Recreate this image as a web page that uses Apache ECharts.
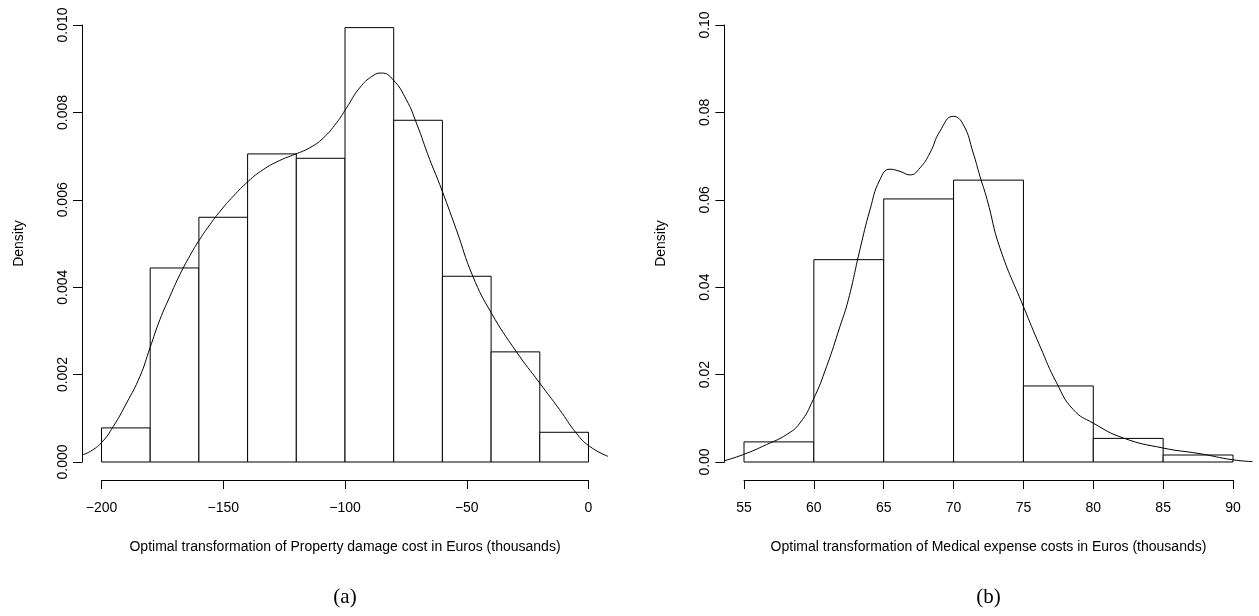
<!DOCTYPE html>
<html>
<head>
<meta charset="utf-8">
<script src="https://cdn.jsdelivr.net/npm/echarts@6/dist/echarts.min.js"></script>
<style>
    html, body { margin: 0; padding: 0; background: #fff; }
    #container { width: 1259px; height: 616px; }
</style>
</head>
<body>
<div id="container"></div>
<script>
// panel (a) histogram
var breaksA = [-200, -180, -160, -140, -120, -100, -80, -60, -40, -20, 0]
var densA = [0.00078, 0.00444, 0.0056, 0.00705, 0.00695, 0.00994, 0.00782, 0.00425, 0.00252, 0.00068]
// panel (a) density curve
var curveAx = [-208, -204.7, -199.9, -195.2, -189.7, -184.2, -180.1, -176, -171.9, -167.8, -163.7, -159.6, -155.5, -151.4, -145.9, -139.8, -133.6, -126.8, -120.6, -114.5, -109, -103.5, -99.4, -94, -88.5, -85, -80.3, -74.8, -70.7, -65.2, -61.1, -54.3, -47.5, -39.9, -29.7, -20.1, -11.9, -5, 0.4, 8]
var curveAy = [0.00016, 0.00024, 0.00045, 0.00081, 0.00135, 0.00196, 0.00261, 0.00326, 0.00379, 0.00429, 0.00472, 0.0051, 0.00543, 0.00573, 0.00608, 0.00642, 0.00669, 0.0069, 0.00704, 0.00719, 0.00741, 0.00776, 0.0081, 0.00856, 0.00884, 0.0089, 0.00875, 0.00829, 0.00776, 0.00692, 0.00635, 0.00532, 0.00425, 0.00341, 0.00253, 0.00181, 0.0012, 0.00066, 0.00036, 0.00013]

// panel (b) histogram
var breaksB = [55, 60, 65, 70, 75, 80, 85, 90]
var densB = [0.0046, 0.0463, 0.0602, 0.0645, 0.0174, 0.0054, 0.0016]
// panel (b) density curve
var curveBx = [53.6, 54.95, 56.62, 58.06, 59, 59.96, 60.92, 61.87, 62.47, 63.3, 64.02, 64.73, 65.45, 66.17, 66.88, 67.6, 68.31, 69.03, 69.98, 70.7, 71.41, 71.89, 72.4, 73.32, 75, 76.19, 77.38, 78.57, 80, 82.15, 85, 87.64, 90, 91.4]
var curveBy = [0.0003, 0.0017, 0.004, 0.0063, 0.0089, 0.0143, 0.0219, 0.031, 0.0371, 0.0486, 0.0577, 0.0646, 0.067, 0.0665, 0.0657, 0.0673, 0.0707, 0.0757, 0.0791, 0.0772, 0.0707, 0.0654, 0.0601, 0.049, 0.0356, 0.0265, 0.0181, 0.012, 0.0089, 0.0055, 0.0032, 0.0019, 0.0005, 0.0001]

var titleA = 'Optimal transformation of Property damage cost in Euros (thousands)'
var titleB = 'Optimal transformation of Medical expense costs in Euros (thousands)'

var font = 'Liberation Sans, Arial, Helvetica, sans-serif'

var histData = function (breaks, dens) {
    var data = []
    for (let i = 0; i < dens.length; i++) {
        data.push([breaks[i], breaks[i + 1], dens[i]])
    }
    return data
}

var zip = function (xs, ys) {
    return xs.map((x, i) => [x, ys[i]])
}

var renderBar = function (params, api) {
    var p0 = api.coord([api.value(0), api.value(2)])
    var p1 = api.coord([api.value(1), 0])
    return {
        type: 'rect',
        shape: { x: p0[0], y: p0[1], width: p1[0] - p0[0], height: p1[1] - p0[1] },
        style: { fill: '#fff', stroke: '#000', lineWidth: 1 },
    }
}

// 看得见的坐标轴 (R 风格, 轴线只到首尾刻度)
var shownX = function (grid, min, max, interval, name) {
    return {
        type: 'value', gridIndex: grid, min: min, max: max, interval: interval,
        offset: 18,
        axisLine: { show: true, onZero: false, lineStyle: { color: '#000', width: 1 } },
        axisTick: { show: true, length: 9, lineStyle: { color: '#000' } },
        splitLine: { show: false },
        axisLabel: {
            color: '#000', fontSize: 14, fontFamily: font, margin: 21,
            formatter: v => String(v).replace('-', '\u2212'),
        },
        name: name, nameLocation: 'middle', nameGap: 60,
        nameTextStyle: { color: '#000', fontSize: 14, fontFamily: font },
    }
}

var shownY = function (grid, min, max, interval, digits, offset) {
    return {
        type: 'value', gridIndex: grid, min: min, max: max, interval: interval,
        offset: offset, position: 'left',
        axisLine: { show: true, onZero: false, lineStyle: { color: '#000', width: 1 } },
        axisTick: { show: true, length: 9, lineStyle: { color: '#000' } },
        splitLine: { show: false },
        axisLabel: {
            color: '#000', fontSize: 14, fontFamily: font, margin: 12, rotate: 90,
            formatter: v => v.toFixed(digits),
        },
        name: 'Density', nameLocation: 'middle', nameGap: 56,
        nameTextStyle: { color: '#000', fontSize: 14, fontFamily: font },
    }
}

var hiddenAxis = function (grid, min, max) {
    return { type: 'value', gridIndex: grid, min: min, max: max, show: false }
}

const chartInit = function () {
    var myChart = echarts.init(document.getElementById('container'))

    var option = {
        animation: false,
        backgroundColor: '#fff',
        grid: [
            { left: 101.5, top: 25, width: 487, height: 437 },
            { left: 82, top: 7.5, width: 526, height: 472 },
            { left: 744, top: 25, width: 489, height: 437 },
            { left: 724.4, top: 7.5, width: 528.1, height: 472 },
        ],
        xAxis: [
            shownX(0, -200, 0, 50, titleA),
            hiddenAxis(1, -208, 8),
            shownX(2, 55, 90, 5, titleB),
            hiddenAxis(3, 53.6, 91.4),
        ],
        yAxis: [
            shownY(0, 0, 0.01, 0.002, 3, 19.5),
            hiddenAxis(1, -0.0004, 0.0104),
            shownY(2, 0, 0.1, 0.02, 2, 19.6),
            hiddenAxis(3, -0.004, 0.104),
        ],
        graphic: [
            { type: 'text', x: 345, y: 597, style: { text: '(a)', font: '21px Liberation Serif, serif', fill: '#000', textAlign: 'center', textVerticalAlign: 'middle' } },
            { type: 'text', x: 988.5, y: 597, style: { text: '(b)', font: '21px Liberation Serif, serif', fill: '#000', textAlign: 'center', textVerticalAlign: 'middle' } },
        ],
        series: [
            {
                type: 'custom', xAxisIndex: 0, yAxisIndex: 0,
                renderItem: renderBar, encode: { x: [0, 1], y: 2 },
                data: histData(breaksA, densA),
            },
            {
                type: 'line', xAxisIndex: 1, yAxisIndex: 1, z: 3,
                smooth: 0.5, showSymbol: false, symbol: 'none',
                lineStyle: { color: '#000', width: 1 },
                data: zip(curveAx, curveAy),
            },
            {
                type: 'custom', xAxisIndex: 2, yAxisIndex: 2,
                renderItem: renderBar, encode: { x: [0, 1], y: 2 },
                data: histData(breaksB, densB),
            },
            {
                type: 'line', xAxisIndex: 3, yAxisIndex: 3, z: 3,
                smooth: 0.5, showSymbol: false, symbol: 'none',
                lineStyle: { color: '#000', width: 1 },
                data: zip(curveBx, curveBy),
            },
        ],
    }

    myChart.setOption(option, true)
}

chartInit()
</script>
</body>
</html>
